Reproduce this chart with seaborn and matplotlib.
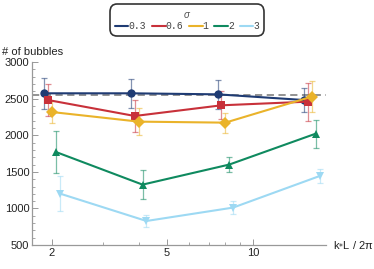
import numpy as np
import pandas as pd
import seaborn as sns
import matplotlib as mpl
from matplotlib import pyplot as plt
from matplotlib.lines import Line2D
from matplotlib.ticker import FixedLocator, NullFormatter

# data
k_vals = [2, 4, 8, 16]
sigmas = ["0.3", "0.6", "1", "2", "3"]
bubbles = {
    "0.3": [2574, 2574, 2560, 2482],
    "0.6": [2482, 2264, 2410, 2460],
    "1":   [2318, 2187, 2173, 2529],
    "2":   [1772, 1326, 1600, 2023],
    "3":   [1204, 829, 1012, 1444],
}
errors = {
    "0.3": [212, 195, 195, 165],
    "0.6": [222, 212, 190, 260],
    "1":   [145, 180, 137, 215],
    "2":   [290, 195, 103, 190],
    "3":   [245, 77, 87, 90],
}
reference_level = 2546

colors = ["#1f3b73", "#c8313a", "#eab32a", "#0f8a5f", "#9dd9f3"]
markers = ["o", "s", "D", "^", "v"]
msizes = [6, 6, 5.5, 6.5, 6.5]

sns.set_style("ticks")
plt.rcParams['font.family'] = ['Liberation Sans', 'DejaVu Sans']

rows = []
for i, s in enumerate(sigmas):
    shift = 10 ** (0.0135 * (i - 2))  # small dodge in log space
    for k, v, e in zip(k_vals, bubbles[s], errors[s]):
        rows.append({"k": k * shift, "n": v, "err": e, "sigma": s})
df = pd.DataFrame(rows)

fig = plt.figure(figsize=(3.74, 2.69), dpi=100)
ax = fig.add_axes([0.0856, 0.089, 0.786, 0.680])

for i, s in enumerate(sigmas):
    d = df[df.sigma == s]
    ax.errorbar(d.k, d.n, yerr=d.err, fmt="none", ecolor=colors[i], alpha=0.55,
                elinewidth=0.9, capsize=2.5, capthick=0.9, zorder=2)

sns.lineplot(data=df, x="k", y="n", hue="sigma", style="sigma", hue_order=sigmas,
             palette=colors, markers=dict(zip(sigmas, markers)), dashes=False,
             markersize=6, markeredgewidth=0, linewidth=1.5, legend=False, ax=ax, zorder=3)

ax.axhline(reference_level, color="#8a8a8a", ls=(0, (4, 2.5)), lw=1.3, zorder=1)

ax.set_xscale("log")
ax.set_xlim(1.704, 17.9)
ax.set_ylim(500, 3000)
ax.xaxis.set_major_locator(FixedLocator([2, 5, 10]))
ax.xaxis.set_minor_locator(FixedLocator([3, 4, 6, 7, 8, 9, 20]))
ax.xaxis.set_minor_formatter(NullFormatter())
ax.set_xticklabels(["2", "5", "10"])
ax.set_yticks([500, 1000, 1500, 2000, 2500, 3000])
ax.set_yticks(np.arange(500, 3001, 100), minor=True)
ax.tick_params(which="both", direction="in", color="#999999", labelsize=8, pad=2,
               labelcolor="#222222")
ax.tick_params(which="major", length=4, width=0.7)
ax.tick_params(which="minor", length=2, width=0.6)
for side in ["left", "bottom"]:
    ax.spines[side].set_color("#999999")
    ax.spines[side].set_linewidth(0.9)
sns.despine(ax=ax)
ax.set_xlabel("")
ax.set_ylabel("")

fig.text(0.005, 0.805, "# of bubbles", fontsize=8, color="#222222", ha="left", va="center")
fig.text(0.89, 0.09, "k$_{*}$L / 2π", fontsize=8, color="#222222", ha="left", va="center")

handles = [Line2D([], [], color=c, lw=1.5) for c in colors]
leg = fig.legend(handles, sigmas, loc="upper center", bbox_to_anchor=(0.5, 0.995), ncol=5,
                 title="σ", handlelength=1.4, handletextpad=0.0, columnspacing=0.6,
                 frameon=True, fancybox=True, borderpad=0.35,
                 prop={"family": "Liberation Mono", "size": 7})
leg.get_title().set_fontstyle("italic")
leg.get_title().set_fontsize(7)
leg.get_title().set_color("#555555")
for t in leg.get_texts():
    t.set_color("#444444")
frame = leg.get_frame()
frame.set_edgecolor("black")
frame.set_linewidth(1.2)
frame.set_boxstyle("round,pad=0.2,rounding_size=0.8")
leg._legend_box.sep = 1

fig.savefig("out.png", dpi=100)
